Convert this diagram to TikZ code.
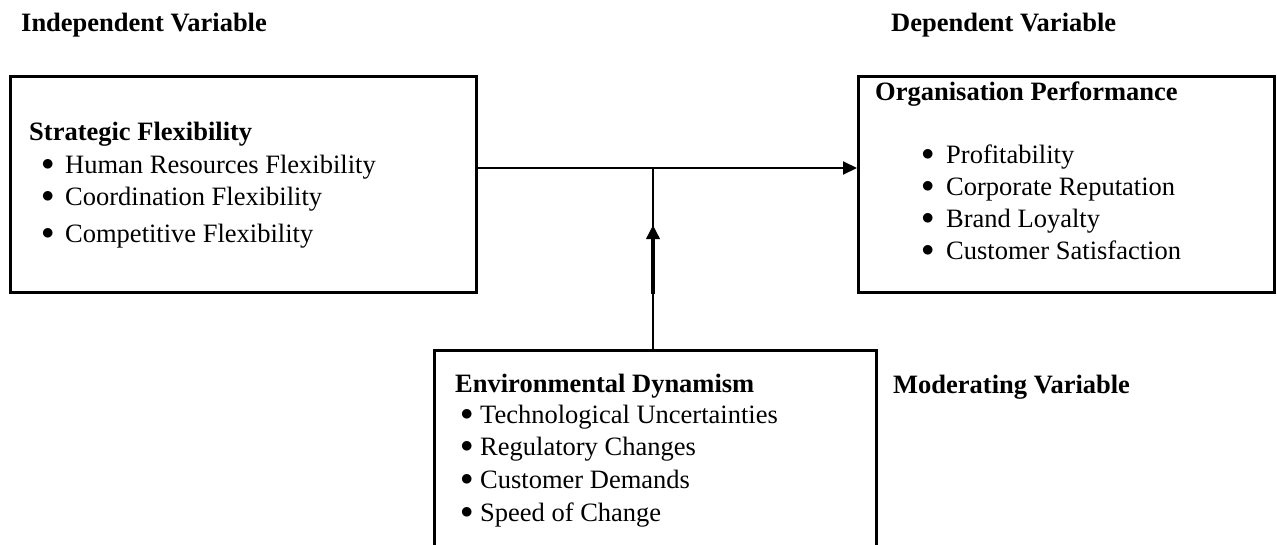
\documentclass[tikz,border=0pt]{standalone}
\usepackage{fontspec}
\setmainfont{Liberation Serif}
\usetikzlibrary{arrows.meta, positioning}

\newcommand{\bulitem}[2]{\makebox[#1][l]{\raisebox{2.5pt}{$\bullet$}}#2}

\begin{document}
\begin{tikzpicture}[
        x=1pt, y=-1pt,
        >={Triangle[length=14pt,width=13pt]},
        varbox/.style={draw, line width=2.6pt, inner sep=0pt},
        txt/.style={inner sep=0pt, anchor=base west, font=\fontsize{26.5}{32}\selectfont},
        head/.style={txt, font=\fontsize{26.5}{32}\selectfont\bfseries},
        link/.style={line width=2pt}
    ]

        \useasboundingbox (0,0) rectangle (1277,544);

        % Titles
        \node[head] (indep) at (21,31) {Independent Variable};
        \node[head] (dep) at (891,31) {Dependent Variable};
        \node[head] (moder) at (893,393) {Moderating Variable};

        % Boxes
        \node[varbox, minimum width=466pt, minimum height=216pt, anchor=north west] (flex) at (9,75) {};
        \node[varbox, minimum width=416pt, minimum height=216pt, anchor=north west] (perf) at (857,75) {};
        \node[varbox, minimum width=442pt, minimum height=225pt, anchor=north west] (dyn) at (433,349) {};

        % Strategic flexibility
        \node[head] (flexhead) at (29,140) {Strategic Flexibility};
        \node[txt] (flexa) at (41.5,173) {\bulitem{23.5pt}{Human Resources Flexibility}};
        \node[txt] (flexb) at (41.5,205) {\bulitem{23.5pt}{Coordination Flexibility}};
        \node[txt] (flexc) at (41.5,242) {\bulitem{23.5pt}{Competitive Flexibility}};

        % Organisation performance
        \node[head] (perfhead) at (875,100) {Organisation Performance};
        \node[txt] (perfa) at (921.5,163) {\bulitem{24.5pt}{Profitability}};
        \node[txt] (perfb) at (921.5,195) {\bulitem{24.5pt}{Corporate Reputation}};
        \node[txt] (perfc) at (921.5,227) {\bulitem{24.5pt}{Brand Loyalty}};
        \node[txt] (perfd) at (921.5,259) {\bulitem{24.5pt}{Customer Satisfaction}};

        % Environmental dynamism
        \node[head] (dynhead) at (455,392) {Environmental Dynamism};
        \node[txt] (dyna) at (460.5,423) {\bulitem{19.5pt}{Technological Uncertainties}};
        \node[txt] (dynb) at (460.5,455) {\bulitem{19.5pt}{Regulatory Changes}};
        \node[txt] (dync) at (460.5,488) {\bulitem{19.5pt}{Customer Demands}};
        \node[txt] (dynd) at (460.5,521) {\bulitem{19.5pt}{Speed of Change}};

        % Links
        \coordinate (jn) at (653,168);
        \coordinate (tip) at (653,225);
        \draw[link, ->] (flex.east |- jn) -- (perf.west |- jn);
        \draw[link] (dyn.north -| jn) -- (jn);
        \draw[line width=4pt, ->] (jn |- flex.south) -- (tip);

    \end{tikzpicture}
\end{document}
